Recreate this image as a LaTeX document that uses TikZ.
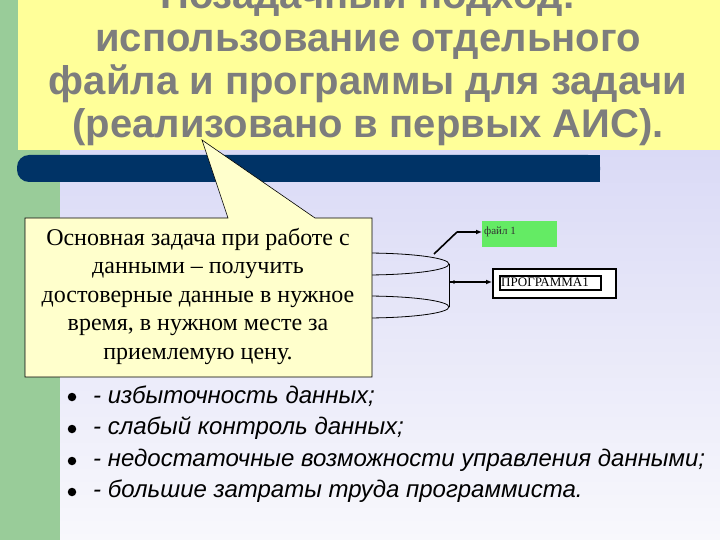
\documentclass[tikz,border=0pt]{standalone}
\usepackage{fontspec}
\setmainfont{Liberation Serif}
\newfontfamily\titlefont{Liberation Sans}
\usetikzlibrary{arrows.meta}
\definecolor{titleyellow}{RGB}{255,255,153}
\definecolor{titlegray}{RGB}{125,125,125}
\definecolor{stripgreen}{RGB}{153,204,153}
\definecolor{barblue}{RGB}{0,51,102}
\definecolor{lavtop}{RGB}{218,218,246}
\definecolor{lavbot}{RGB}{248,248,252}
\definecolor{calloutfill}{RGB}{255,255,204}
\definecolor{filegreen}{RGB}{100,235,100}
\tikzset{
  titleline/.style={anchor=base, text=titlegray, font=\titlefont\bfseries\fontsize{40}{40}\selectfont, inner sep=0pt},
  bullettext/.style={anchor=base west, font=\titlefont\itshape\fontsize{24}{26}\selectfont, inner sep=0pt},
  bulletdot/.style={circle, fill=black, minimum size=8.5pt, inner sep=0pt},
  conn/.style={line width=1.6pt, -{Latex[length=6pt,width=5pt]}},
}
\begin{document}
\begin{tikzpicture}[x=1pt,y=-1pt]
\useasboundingbox (0,0) rectangle (720,540);
% background
\fill[stripgreen] (0,0) rectangle (720,540);
\shade[top color=lavtop, bottom color=lavbot] (60,150) rectangle (720,540);
\fill[titleyellow] (18,0) rectangle (720,150);
% title
\node[titleline] (t1) at (368,9) {Позадачный подход:};
\node[titleline] (t2) at (368,52) {использование отдельного};
\node[titleline] (t3) at (368,95) {файла и программы для задачи};
\node[titleline] (t4) at (368,138) {(реализовано в первых АИС).};
% blue bar
\fill[barblue, rounded corners=12pt] (17,155) -- (600,155) -- (600,182) -- (17,182) -- cycle;
\fill[barblue] (40,155) rectangle (600,182);
% cylinder
\draw[line width=0.8pt] (365,264) ellipse [x radius=84, y radius=11];
\draw[line width=0.8pt] (365,307) ellipse [x radius=84, y radius=11];
\draw[line width=0.8pt] (449,264) -- (449,307);
\coordinate (cyltop) at (434,254);
\coordinate (cylside) at (449,282);
% file box
\node[fill=filegreen, minimum width=75pt, minimum height=26pt, inner sep=0pt, anchor=north west] (file) at (482,221) {};
\node[anchor=base west, font=\fontsize{11}{12}\selectfont, inner sep=0pt, text=black!80] (filetext) at (484,234) {файл 1};
% program box
\node[draw, line width=2pt, fill=white, minimum width=123pt, minimum height=29pt, inner sep=0pt, anchor=north west] (prog) at (492,268) {};
\node[draw, line width=1.8pt, fill=white, minimum width=101pt, minimum height=14pt, inner sep=0pt, anchor=north west] (proginner) at (499,275) {};
\node[anchor=west, font=\fontsize{13}{14}\selectfont, inner sep=0pt] (progtext) at (501,282.5) {ПРОГРАММА1};
% connectors
\draw[line width=1.6pt] (cyltop) -- (457,232) coordinate (bend);
\draw[conn] (bend) -- (file.west |- bend);
\draw[conn] (cylside) -- (prog.west |- cylside);
\fill (454,282) circle (1.8pt);
% callout
\draw[fill=calloutfill, line width=0.6pt] (25,218) -- (228,218) -- (202,140) -- (315,218) -- (372,218) -- (372,377) -- (25,377) -- cycle;
\node[anchor=base, align=center, font=\fontsize{24}{28.5}\selectfont, inner sep=0pt] (callout) at (198,359)
  {Основная задача при работе с\\данными – получить\\достоверные данные в нужное\\время, в нужном месте за\\приемлемую цену.};
% bullets
\node[bulletdot] (b1) at (72,397) {};
\node[bulletdot] (b2) at (72,429) {};
\node[bulletdot] (b3) at (72,461) {};
\node[bulletdot] (b4) at (72,492) {};
\node[bullettext] (l1) at (93,403) {- избыточность данных;};
\node[bullettext] (l2) at (93,434) {- слабый контроль данных;};
\node[bullettext] (l3) at (93,466) {- недостаточные возможности управления данными;};
\node[bullettext] (l4) at (93,497) {- большие затраты труда программиста.};
\end{tikzpicture}
\end{document}
